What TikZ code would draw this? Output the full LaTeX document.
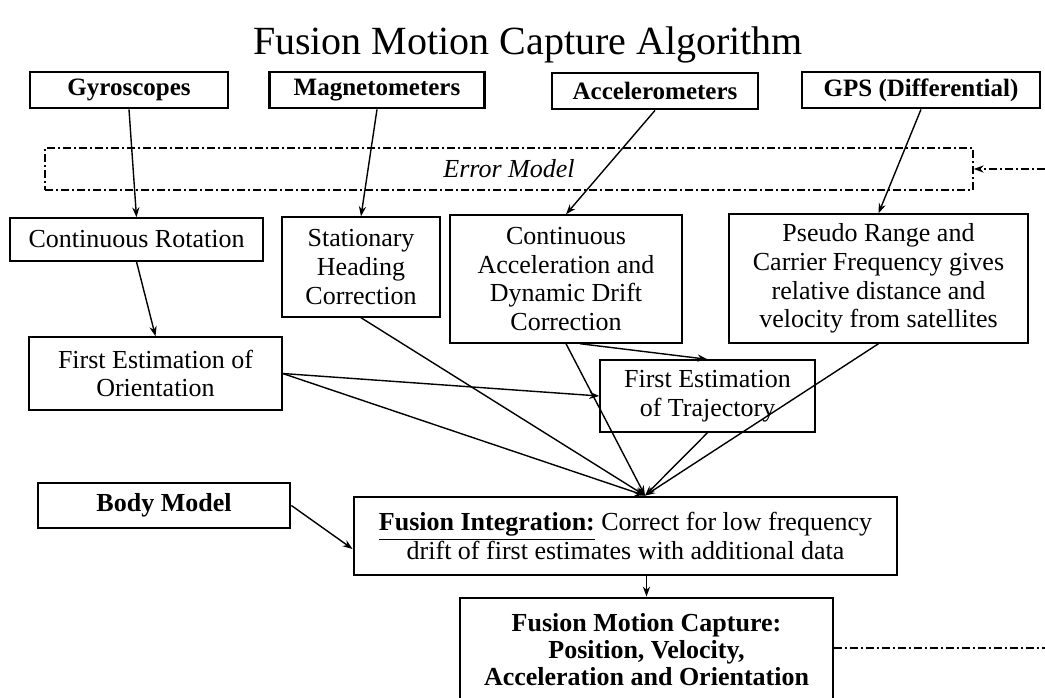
\documentclass[tikz,border=0pt]{standalone}
\usepackage{fontspec}
\setmainfont{Liberation Serif}
\usetikzlibrary{arrows.meta}
\begin{document}
\begin{tikzpicture}[x=0.5pt, y=-0.5pt, >={Stealth[length=5pt, width=3.6pt]},
  every node/.style={font=\fontsize{13}{14.3}\selectfont, align=center, inner sep=0pt},
  sensor/.style={draw, line width=1.4pt, minimum height=18pt, font=\fontsize{12.5}{14}\selectfont\bfseries},
  proc/.style={draw, line width=0.7pt},
  fused/.style={draw, line width=1.4pt},
  errline/.style={line width=0.7pt, dash pattern=on 4pt off 1.5pt on 1pt off 1.5pt},
  link/.style={->, line width=0.7pt}]
  \useasboundingbox (0,0) rectangle (1045,697);
  \node[font=\fontsize{20}{22}\selectfont] (title) at (528,45) {Fusion Motion Capture Algorithm};
  % sensors
  \node[sensor, minimum width=99pt] (gyro) at (129,90) {Gyroscopes};
  \node[sensor, minimum width=107.5pt] (magn) at (377,90) {Magnetometers};
  \node[sensor, minimum width=103pt] (accel) at (655,91) {Accelerometers};
  \node[sensor, minimum width=119pt] (gps) at (921,90) {GPS (Differential)};
  \node[draw, errline, minimum width=464pt, minimum height=21pt, font=\fontsize{13}{14}\selectfont\itshape] (err) at (509,169) {Error Model};
  % first stage
  \node[proc, minimum width=126.5pt, minimum height=21.5pt] (rot) at (136.5,239.5) {Continuous Rotation};
  \node[proc, minimum width=79pt, minimum height=50pt] (head) at (361,267) {Stationary\\Heading\\Correction};
  \node[proc, minimum width=116pt, minimum height=64pt] (drift) at (566,279) {Continuous\\Acceleration and\\Dynamic Drift\\Correction};
  \node[proc, minimum width=149.5pt, minimum height=64.5pt] (range) at (878.5,278.5) {Pseudo Range and\\Carrier Frequency gives\\relative distance and\\velocity from satellites};
  \node[proc, minimum width=126.5pt, minimum height=36.5pt] (orient) at (155.5,373.5) {First Estimation of\\Orientation};
  \node[proc, minimum width=107.5pt, minimum height=36pt] (traj) at (707.5,396) {First Estimation\\of Trajectory};
  % fusion
  \node[fused, minimum width=126pt, minimum height=22.5pt, font=\fontsize{13}{14}\selectfont\bfseries] (body) at (164,505.5) {Body Model};
  \node[fused, minimum width=271.5pt, minimum height=39pt, font=\fontsize{13}{14.5}\selectfont] (integ) at (625.5,536) {\underline{\textbf{Fusion Integration:}} Correct for low frequency\\drift of first estimates with additional data};
  \node[fused, minimum width=186.5pt, minimum height=52pt, font=\fontsize{13}{13.5}\selectfont\bfseries] (out) at (646.5,650) {Fusion Motion Capture:\\Position, Velocity,\\Acceleration and Orientation};
  \coordinate (hub) at ([xshift=9.75pt]integ.north);
  \coordinate (fbT) at (1045,169);
  \coordinate (fbR) at (1045,648);
  % connectors
  \draw[link] (gyro.south) -- (rot.north);
  \draw[link] (magn.south) -- (head.north);
  \draw[link] (accel.south) -- (drift.north);
  \draw[link] (gps.south) -- (range.north);
  \draw[link] (rot.south) -- (orient.north);
  \draw[link] (orient.east) -- (traj.west);
  \draw[link] ([xshift=7pt]drift.south) -- (traj.north);
  \foreach \src in {orient.east, head.south, drift.south, traj.south, range.south}
    \draw[link] (\src) -- (hub);
  \draw[link] (body.east) -- ([yshift=-6.5pt]integ.west);
  \draw[link] (out.north |- integ.south) -- (out.north);
  \draw[errline, ->] (fbT) -- (err.east);
  \draw[errline] (out.east |- fbR) -- (fbR);
\end{tikzpicture}
\end{document}
